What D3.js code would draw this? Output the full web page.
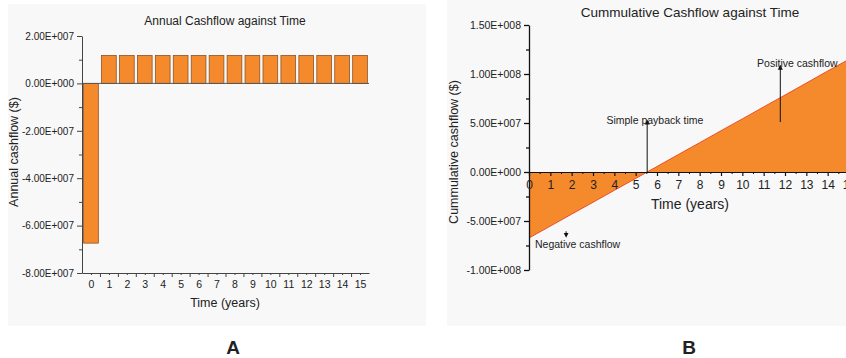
<!DOCTYPE html>
<html>
<head>
<meta charset="utf-8">
<script src="https://cdn.jsdelivr.net/npm/d3@7"></script>
<style>
	body { margin: 0; background: #ffffff; }
	text { font-family: "Liberation Sans", Arial, sans-serif; fill: #222; }
</style>
</head>
<body>
<svg id="chart" width="846" height="358"></svg>
<script>
// data
const years = [0, 1, 2, 3, 4, 5, 6, 7, 8, 9, 10, 11, 12, 13, 14, 15];
const annualCashflow = [-6.74e7, 1.18e7, 1.18e7, 1.18e7, 1.18e7, 1.18e7, 1.18e7, 1.18e7,
	1.18e7, 1.18e7, 1.18e7, 1.18e7, 1.18e7, 1.18e7, 1.18e7, 1.18e7];
const cumulativeCashflow = [-6.73e7, -5.52e7, -4.30e7, -3.09e7, -1.87e7, -0.66e7, 0.56e7, 1.78e7,
	2.99e7, 4.21e7, 5.42e7, 6.64e7, 7.85e7, 9.07e7, 1.03e8, 1.15e8];
const annualTicks = [-8e7, -6e7, -4e7, -2e7, 0, 2e7];
const cumulativeTicks = [-1e8, -5e7, 0, 5e7, 1e8, 1.5e8];
const paybackYear = 5.54;

const ORANGE = "#f58a2c";
const AXIS = "#444";

// "2.00E+007" style labels
const sci = v => {
	if (v === 0) return "0.00E+000";
	const e = Math.floor(Math.log10(Math.abs(v)));
	const m = v / Math.pow(10, e);
	return `${m.toFixed(2)}E+${String(e).padStart(3, "0")}`;
};

const svg = d3.select("#chart");

// light panels behind both figures
svg.append("rect").attr("x", 8).attr("y", 4).attr("width", 418).attr("height", 322).attr("fill", "#f8f8f8");
svg.append("rect").attr("x", 447).attr("y", 0).attr("width", 399).attr("height", 326).attr("fill", "#f8f8f8");

const styleAxis = g => {
	g.selectAll("path, line").attr("stroke", AXIS);
	g.selectAll("text").attr("fill", "#222");
};

// ---------- A: annual cashflow ----------
const xA = d3.scaleLinear().domain([-0.5, 15.5]).range([82, 369]);
const yA = d3.scaleLinear().domain([-8e7, 2e7]).range([273, 36]);
const barW = (xA(1) - xA(0)) * 0.82;

svg.append("g")
	.selectAll("rect")
	.data(years)
	.join("rect")
	.attr("x", (d, i) => xA(d) - barW / 2)
	.attr("y", (d, i) => yA(Math.max(0, annualCashflow[i])))
	.attr("width", barW)
	.attr("height", (d, i) => Math.abs(yA(annualCashflow[i]) - yA(0)))
	.attr("fill", ORANGE)
	.attr("stroke", "#8d5426")
	.attr("stroke-width", 0.8);

// zero line
svg.append("line")
	.attr("x1", xA(-0.5)).attr("x2", xA(15.5))
	.attr("y1", yA(0)).attr("y2", yA(0))
	.attr("stroke", "#555").attr("stroke-width", 1);

svg.append("g")
	.attr("transform", `translate(${xA(-0.5)},0)`)
	.call(d3.axisLeft(yA).tickValues(annualTicks).tickFormat(sci).tickSize(5).tickPadding(3).tickSizeOuter(0))
	.call(g => g.selectAll("text").attr("font-size", 10))
	.call(styleAxis);

svg.append("g")
	.attr("transform", `translate(${xA(-0.5)},0)`)
	.call(d3.axisLeft(yA).tickValues(d3.range(-7e7, 2e7, 2e7)).tickFormat("").tickSize(3).tickSizeOuter(0))
	.call(g => g.select(".domain").remove())
	.call(styleAxis);

svg.append("g")
	.attr("transform", `translate(0,${yA(-8e7)})`)
	.call(d3.axisBottom(xA).tickValues(years).tickFormat(d3.format("d")).tickSize(2).tickPadding(6).tickSizeOuter(0))
	.call(g => g.selectAll("text").attr("font-size", 10.5))
	.call(styleAxis);

svg.append("g")
	.attr("transform", `translate(0,${yA(-8e7)})`)
	.call(d3.axisBottom(xA).tickValues(d3.range(0.5, 15.5, 1)).tickFormat("").tickSize(4).tickSizeOuter(0))
	.call(g => g.select(".domain").remove())
	.call(styleAxis);

svg.append("text")
	.attr("x", 225).attr("y", 25)
	.attr("text-anchor", "middle").attr("font-size", 12)
	.text("Annual Cashflow against Time");

svg.append("text")
	.attr("x", 225).attr("y", 307)
	.attr("text-anchor", "middle").attr("font-size", 12.5)
	.text("Time (years)");

svg.append("text")
	.attr("transform", "translate(18,152) rotate(-90)")
	.attr("text-anchor", "middle").attr("font-size", 12.5)
	.text("Annual cashflow ($)");

// ---------- B: cumulative cashflow ----------
const xB = d3.scaleLinear().domain([0, 15]).range([529, 849]);
const yB = d3.scaleLinear().domain([-1e8, 1.5e8]).range([270, 25]);

const pts = years.map((d, i) => ({ t: d, v: cumulativeCashflow[i] }));

svg.append("path")
	.datum(pts)
	.attr("d", d3.area().x(d => xB(d.t)).y0(yB(0)).y1(d => yB(d.v)))
	.attr("fill", ORANGE);

svg.append("path")
	.datum(pts)
	.attr("d", d3.line().x(d => xB(d.t)).y(d => yB(d.v)))
	.attr("fill", "none")
	.attr("stroke", "#ec4f2a")
	.attr("stroke-width", 1);

svg.append("g")
	.attr("transform", `translate(${xB(0)},0)`)
	.call(d3.axisLeft(yB).tickValues(cumulativeTicks).tickFormat(sci).tickSize(5).tickPadding(3).tickSizeOuter(0))
	.call(g => g.selectAll("text").attr("font-size", 10.5))
	.call(styleAxis)
	.call(g => g.selectAll("path, line").attr("stroke", "#111").attr("stroke-width", 1.3));

svg.append("g")
	.attr("transform", `translate(${xB(0)},0)`)
	.call(d3.axisLeft(yB).tickValues(d3.range(-7.5e7, 1.5e8, 5e7)).tickFormat("").tickSize(3).tickSizeOuter(0))
	.call(g => g.select(".domain").remove())
	.call(styleAxis)
	.call(g => g.selectAll("line").attr("stroke", "#111").attr("stroke-width", 1.3));

const xAxisB = d3.scaleLinear().domain([0, 16]).range([xB(0), xB(16)]);
svg.append("g")
	.attr("transform", `translate(0,${yB(0)})`)
	.call(d3.axisBottom(xAxisB).tickValues(years).tickFormat(d3.format("d")).tickSize(4).tickPadding(4).tickSizeOuter(0))
	.call(g => g.selectAll("text").attr("font-size", 12))
	.call(styleAxis)
	.call(g => g.selectAll("path, line").attr("stroke", "#111").attr("stroke-width", 1.2));

svg.append("g")
	.attr("transform", `translate(0,${yB(0)})`)
	.call(d3.axisBottom(xAxisB).tickValues(d3.range(0.5, 16, 1)).tickFormat("").tickSize(2).tickSizeOuter(0))
	.call(g => g.select(".domain").remove())
	.call(styleAxis)
	.call(g => g.selectAll("line").attr("stroke", "#111"));

svg.append("text")
	.attr("x", 690).attr("y", 17)
	.attr("text-anchor", "middle").attr("font-size", 13.5)
	.text("Cummulative Cashflow against Time");

svg.append("text")
	.attr("x", 690).attr("y", 209)
	.attr("text-anchor", "middle").attr("font-size", 14)
	.text("Time (years)");

svg.append("text")
	.attr("transform", "translate(458,152) rotate(-90)")
	.attr("text-anchor", "middle").attr("font-size", 12.5)
	.text("Cummulative cashflow ($)");

// annotations
svg.append("defs").append("marker")
	.attr("id", "head")
	.attr("viewBox", "0 0 10 10")
	.attr("refX", 5).attr("refY", 5)
	.attr("markerWidth", 5).attr("markerHeight", 6)
	.attr("orient", "auto")
	.append("path")
	.attr("d", "M0,0 L10,5 L0,10 Z")
	.attr("fill", "#111");

const arrows = [
	{ t: paybackYear, from: 0, to: 5.1e7 },
	{ t: 11.78, from: 5.1e7, to: 1.07e8 },
	{ t: 1.74, from: -6.05e7, to: -6.45e7 }
];
svg.append("g")
	.selectAll("line")
	.data(arrows)
	.join("line")
	.attr("x1", d => xB(d.t)).attr("x2", d => xB(d.t))
	.attr("y1", d => yB(d.from)).attr("y2", d => yB(d.to))
	.attr("stroke", "#111").attr("stroke-width", 1)
	.attr("marker-end", "url(#head)");

const notes = [
	{ t: 5.9, v: 5.3e7, anchor: "middle", label: "Simple payback time" },
	{ t: 10.69, v: 1.11e8, anchor: "start", label: "Positive cashflow" },
	{ t: 0.28, v: -7.35e7, anchor: "start", label: "Negative cashflow" }
];
svg.append("g")
	.selectAll("text")
	.data(notes)
	.join("text")
	.attr("x", d => xB(d.t))
	.attr("y", d => yB(d.v))
	.attr("dy", "0.35em")
	.attr("text-anchor", d => d.anchor)
	.attr("font-size", 10.5)
	.text(d => d.label);

// panel letters
svg.append("text").attr("x", 233).attr("y", 354).attr("text-anchor", "middle")
	.attr("font-size", 19).attr("font-weight", "bold").attr("fill", "#000").text("A");
svg.append("text").attr("x", 689).attr("y", 354).attr("text-anchor", "middle")
	.attr("font-size", 19).attr("font-weight", "bold").attr("fill", "#000").text("B");
</script>
</body>
</html>
